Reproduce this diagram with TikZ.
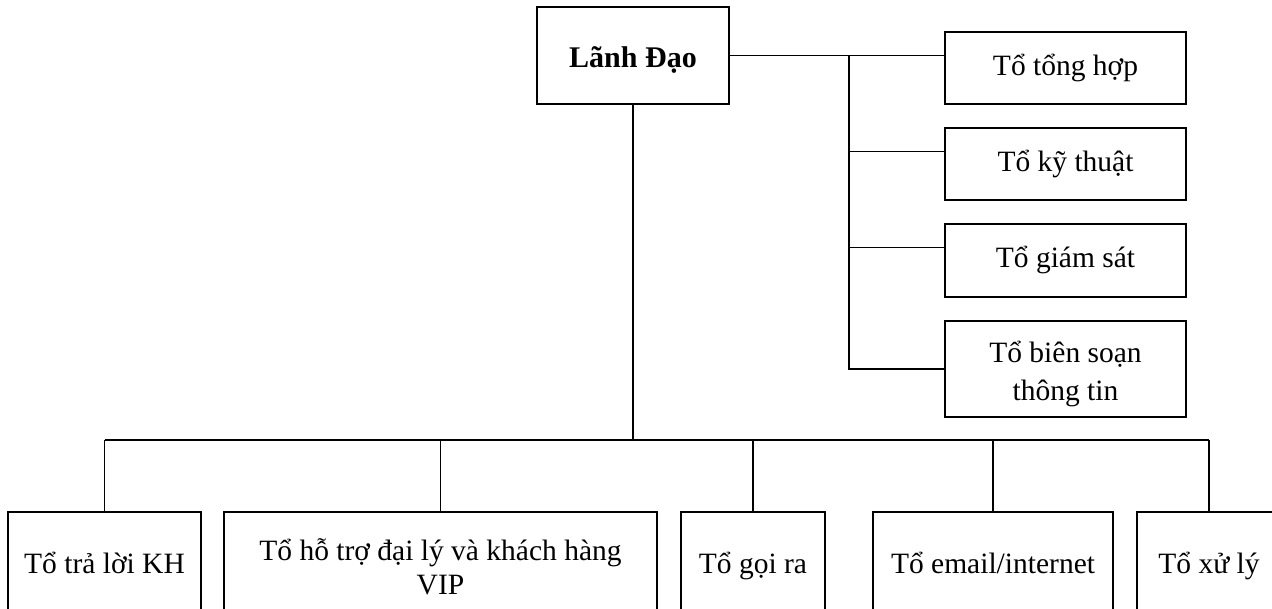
\documentclass[tikz,border=0pt]{standalone}
\usepackage{fontspec}
\setmainfont{Liberation Serif}
\begin{document}
\begin{tikzpicture}[x=1pt,y=-1pt,
  unit/.style={draw,rectangle,line width=1.3pt,inner sep=0pt},
  heavyunit/.style={unit,line width=2.2pt},
  caption/.style={font=\fontsize{29.5}{38}\selectfont,anchor=base,inner sep=0pt,align=center},
  wire/.style={line width=1.3pt},
  heavywire/.style={line width=2.2pt},
]
\useasboundingbox (0,0) rectangle (1272,608);
\clip (0,0) rectangle (1272,608);

% head of the organisation
\node[unit,minimum width=192pt,minimum height=97pt] (lead) at (633,55.5) {};
\node[caption,font=\fontsize{30}{38}\selectfont\bfseries] (lead-t) at (lead.center |- 0,67) {Lãnh Đạo};

% staff units on the right
\node[unit,minimum width=241pt,minimum height=72pt] (tth) at (1065.5,68) {};
\node[unit,minimum width=241pt,minimum height=72pt] (tkt) at (1065.5,164) {};
\node[unit,minimum width=241pt,minimum height=73pt] (tgs) at (1065.5,260.5) {};
\node[heavyunit,minimum width=241pt,minimum height=96pt] (tbs) at (1065.5,369) {};
\node[caption] (tth-t) at (tth.center |- 0,75) {Tổ tổng hợp};
\node[caption] (tkt-t) at (tkt.center |- 0,171) {Tổ kỹ thuật};
\node[caption] (tgs-t) at (tgs.center |- 0,267) {Tổ giám sát};
% multi-line captions sit on the baseline of their last line
\node[caption] (tbs-t) at (tbs.center |- 0,400) {Tổ biên soạn\\thông tin};

% operating units along the bottom
\node[unit,minimum width=193pt,minimum height=128pt] (b1) at (104.5,576) {};
\node[unit,minimum width=433pt,minimum height=128pt] (b2) at (440.5,576) {};
\node[unit,minimum width=144pt,minimum height=128pt] (b3) at (753,576) {};
\node[unit,minimum width=240pt,minimum height=128pt] (b4) at (993,576) {};
\node[unit,minimum width=144pt,minimum height=128pt] (b5) at (1209,576) {};
\node[caption] (b1-t) at (b1.center |- 0,573) {Tổ trả lời KH};
\node[caption,font=\fontsize{29.5}{34}\selectfont] (b2-t) at (b2.center |- 0,594) {Tổ hỗ trợ đại lý và khách hàng\\VIP};
\node[caption] (b3-t) at (b3.center |- 0,573) {Tổ gọi ra};
\node[caption] (b4-t) at (b4.center |- 0,573) {Tổ email/internet};
\node[caption] (b5-t) at (b5.center |- 0,573) {Tổ xử lý};

% right-hand trunk
\coordinate (trunk) at (849,0);
\coordinate (trunkjoint) at (849,320);
\draw[wire] (lead.east) -- (lead.east -| tth.west);
\draw[wire] (trunk |- lead.east) -- (trunkjoint);
\draw[heavywire] (trunkjoint) -- (trunk |- tbs.west) -- (tbs.west);
\draw[wire] ([yshift=-24pt]tkt.north west -| trunk) -- ([yshift=-24pt]tkt.north west);
\draw[wire] ([yshift=-24pt]tgs.north west -| trunk) -- ([yshift=-24pt]tgs.north west);

% bottom bus
\coordinate (hub) at (633,440);
\draw[wire] (lead.south) -- (hub);
\draw[wire] (b1.north |- hub) -- (b5.north |- hub);
\foreach \b in {b1,b2,b3,b4,b5}
  \draw[wire] (\b.north |- hub) -- (\b.north);
\end{tikzpicture}
\end{document}
